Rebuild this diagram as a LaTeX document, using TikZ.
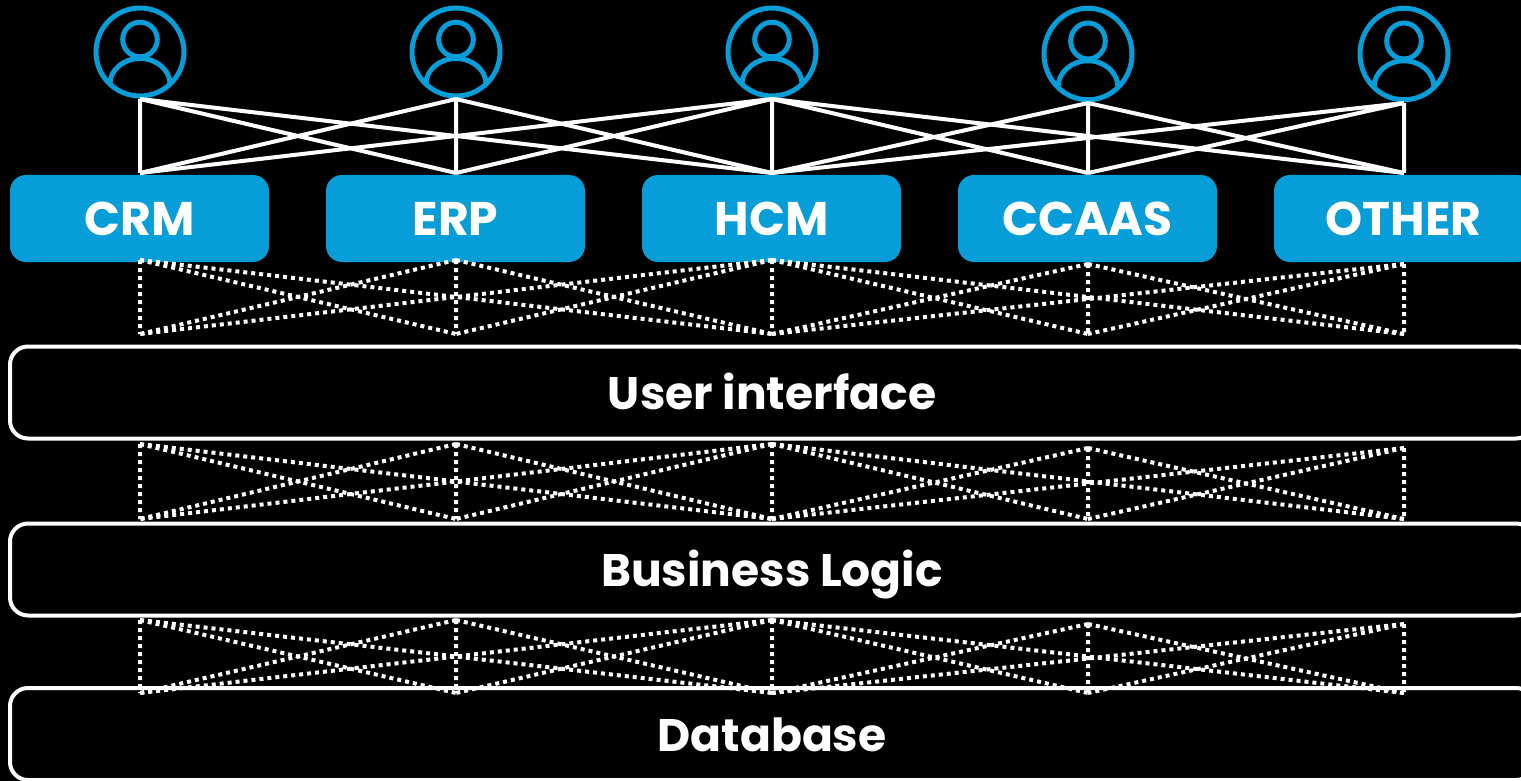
\documentclass[tikz,border=0pt]{standalone}
\usepackage{fontspec}
\setmainfont{Poppins}[BoldFont={Poppins Bold}]
\definecolor{appblue}{HTML}{069DD9}
\tikzset{
    appbox/.style={fill=appblue,rounded corners=8pt,minimum width=129.5pt,minimum height=43.5pt,text=white,text height=16.5pt,text depth=0pt,font=\bfseries\fontsize{23.6}{24}\selectfont},
    layerbox/.style={draw=white,line width=2pt,rounded corners=9pt,minimum width=762pt,minimum height=46pt,text=white,text height=17pt,text depth=0pt,font=\bfseries\fontsize{22.8}{24}\selectfont},
    usering/.style={circle,draw=appblue,line width=2.5pt,minimum size=44pt,inner sep=0pt,transform shape},
    usericon/.style={draw=appblue,line width=2.5pt},
    wire/.style={draw=white,line width=2pt},
    dotwire/.style={draw=white,line width=2pt,dash pattern=on 2pt off 2pt}
}
\newcommand{\mesh}[4]{
    \coordinate(t1)at(140,#2);
    \coordinate(t2)at(456,#2);
    \coordinate(t3)at(772,#2);
    \coordinate(t4)at(1088,#3);
    \coordinate(t5)at(1404,#3);
    \coordinate(b1)at(140,#4);
    \coordinate(b2)at(456,#4);
    \coordinate(b3)at(772,#4);
    \coordinate(b4)at(1088,#4);
    \coordinate(b5)at(1404,#4);
    \draw[#1](t1)--(b1)(t1)--(b2)(t1)--(b3);
    \draw[#1](t2)--(b1)(t2)--(b2)(t2)--(b3);
    \draw[#1](t3)--(b1)(t3)--(b2)(t3)--(b3)(t3)--(b4)(t3)--(b5);
    \draw[#1](t4)--(b3)(t4)--(b4)(t4)--(b5);
    \draw[#1](t5)--(b3)(t5)--(b4)(t5)--(b5);
}
\newcommand{\user}[4]{
    \begin{scope}[shift={(#2,#3)},yscale=#4]
        \node[usering](#1)at(0,0){};
        \draw[usericon](0,-12.5)circle(17.3);
        \draw[usericon](-30,32)arc(180:360:30 and 25.5);
    \end{scope}
}
\begin{document}
\begin{tikzpicture}[x=0.5pt,y=-0.5pt]
    \clip(0,0)rectangle(1521,781);
    \fill[black](0,0)rectangle(1521,781);
    \user{usera}{140}{52}{1}
    \user{userb}{456}{52}{1}
    \user{userc}{772}{52}{1}
    \user{userd}{1088}{54}{1.04}
    \user{usere}{1404}{54}{1.04}
    \node[appbox](crm)at(139.5,218.5){CRM};
    \node[appbox](erp)at(455.5,218.5){ERP};
    \node[appbox](hcm)at(771.5,218.5){HCM};
    \node[appbox](ccaas)at(1087.5,218.5){CCAAS};
    \node[appbox](other)at(1403.5,218.5){OTHER};
    \node[layerbox](ui)at(772,392.5){User interface};
    \node[layerbox](logic)at(772,569.5){Business Logic};
    \node[layerbox](db)at(772,734){Database};
    \mesh{wire}{99}{103}{173}
    \mesh{dotwire}{260}{264}{334}
    \mesh{dotwire}{444}{448}{519}
    \mesh{dotwire}{620}{624}{693}
\end{tikzpicture}
\end{document}
